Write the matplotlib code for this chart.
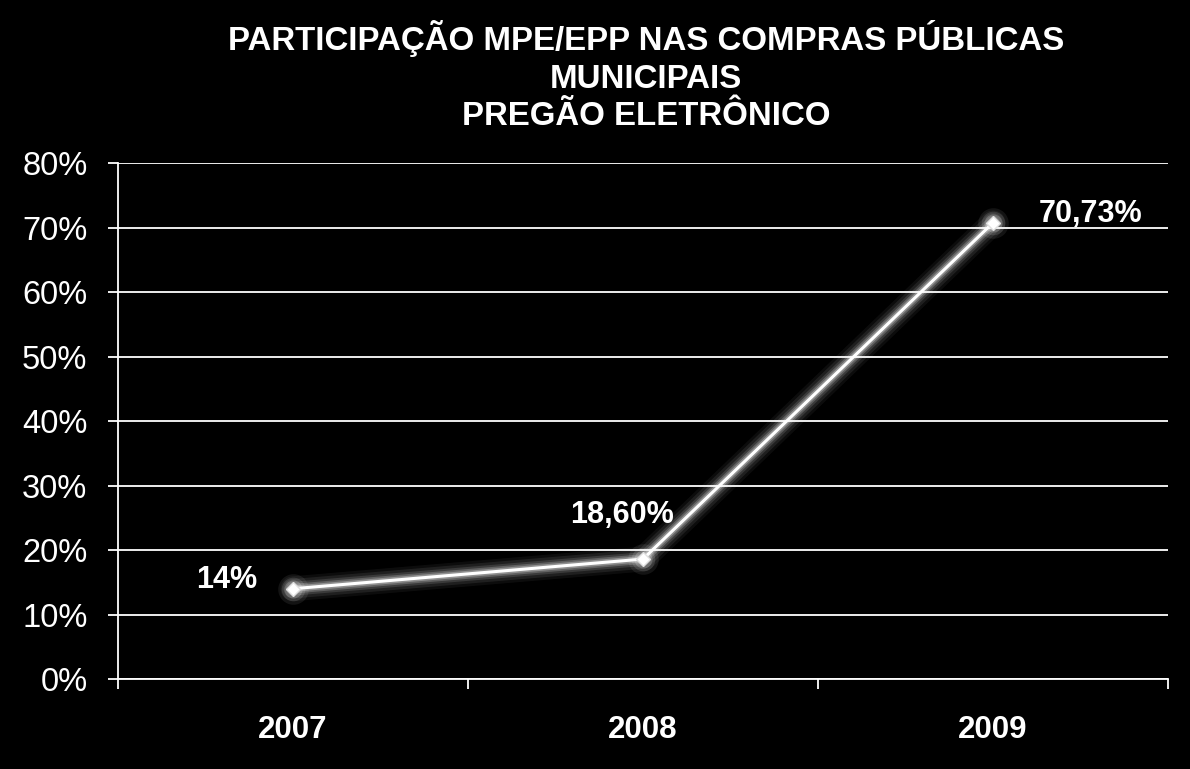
import matplotlib.pyplot as plt
from matplotlib.ticker import FuncFormatter

plt.rcParams['font.family'] = ['Liberation Sans', 'DejaVu Sans']

years = ['2007', '2008', '2009']
share = [14.0, 18.6, 70.73]
labels = ['14%', '18,60%', '70,73%']
title = 'PARTICIPAÇÃO MPE/EPP NAS COMPRAS PÚBLICAS\nMUNICIPAIS\nPREGÃO ELETRÔNICO'

fig = plt.figure(figsize=(11.9, 7.69), dpi=100, facecolor='black')
ax = fig.add_axes([0.0992, 0.117, 0.8823, 0.671], facecolor='black')

x = list(range(len(years)))

# soft glow under the line
for lw, a in [(18, 0.05), (14, 0.08), (10, 0.12), (7, 0.2), (4.5, 0.3)]:
    ax.plot(x, share, color='white', lw=lw, alpha=a, solid_capstyle='round',
            solid_joinstyle='round', zorder=3)
for ms, a in [(22, 0.08), (17, 0.12), (13, 0.2)]:
    ax.plot(x, share, 'o', color='white', ms=ms, mew=0, alpha=a, zorder=3)
ax.plot(x, share, color='white', lw=2.2, marker='D', ms=7, mfc='white', mec='#e0e0e0', zorder=4)

ax.set_xlim(-0.5, 2.5)
ax.set_ylim(0, 80)
ax.set_yticks(range(0, 81, 10))
ax.yaxis.set_major_formatter(FuncFormatter(lambda v, p: f'{v:.0f}%'))
ax.grid(axis='y', color='white', lw=1.3, zorder=1)
ax.set_axisbelow(True)

ax.set_xticks(x)
ax.set_xticklabels(years, fontsize=22.5, fontweight='bold', color='white')
ax.set_xticks([-0.5, 0.5, 1.5, 2.5], minor=True)
ax.tick_params(axis='x', which='major', length=0, pad=26)
ax.tick_params(axis='x', which='minor', length=7, color='white', width=1.3)
ax.tick_params(axis='y', length=7, color='white', width=1.3, labelsize=23.5,
               labelcolor='white', pad=15)

for s in ['top', 'right']:
    ax.spines[s].set_visible(False)
for s in ['left', 'bottom']:
    ax.spines[s].set_color('white')
    ax.spines[s].set_linewidth(1.3)

offsets = [(-0.19, 1.4), (-0.06, 6.9), (0.28, 1.3)]
for xi, yi, lab, (dx, dy) in zip(x, share, labels, offsets):
    ax.text(xi + dx, yi + dy, lab, color='white', fontsize=22, fontweight='bold',
            ha='center', va='center', zorder=5)

fig.text(0.543, 0.974, title, color='white', fontsize=23.8, fontweight='bold',
         ha='center', va='top', linespacing=1.28)

fig.savefig('out.png', dpi=100, facecolor='black')
